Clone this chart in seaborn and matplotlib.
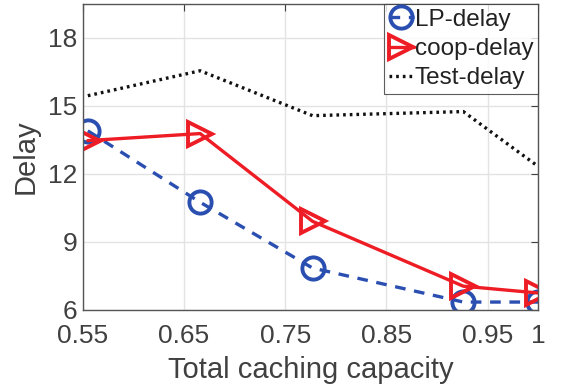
import matplotlib
matplotlib.use("Agg")
import matplotlib.pyplot as plt
import seaborn as sns
import pandas as pd

capacity = [0.555, 0.666, 0.777, 0.926, 1.0]
lp_delay = [13.9, 10.75, 7.85, 6.35, 6.35]
coop_delay = [13.47, 13.78, 9.91, 7.05, 6.75]
test_delay = [15.45, 16.55, 14.57, 14.75, 12.33]
series_names = ["LP-delay", "coop-delay", "Test-delay"]
xticks = [0.55, 0.65, 0.75, 0.85, 0.95, 1]
xtick_labels = ["0.55", "0.65", "0.75", "0.85", "0.95", "1"]
yticks = [6, 9, 12, 15, 18]

sns.set_theme(style="whitegrid")
plt.rcParams['font.family'] = ['Liberation Sans', 'DejaVu Sans']

df = pd.DataFrame({
    "x": capacity * 3,
    "y": lp_delay + coop_delay + test_delay,
    "series": [series_names[0]] * 5 + [series_names[1]] * 5 + [series_names[2]] * 5,
})

fig = plt.figure(figsize=(5.63, 3.87), dpi=100)
ax = fig.add_axes([0.147, 0.199, 0.809, 0.791])

styles = {
    "LP-delay": dict(color="#2a4fb0", linestyle=(0, (3.2, 2.6)), marker="o", markersize=16,
                     markerfacecolor="none", markeredgewidth=2.8),
    "coop-delay": dict(color="#ee1c24", linestyle="-", marker=">", markersize=17,
                       markerfacecolor="none", markeredgewidth=2.8),
    "Test-delay": dict(color="#111111", linestyle=(0, (0.8, 1.2)), marker=None),
}
for name in series_names:
    sub = df[df["series"] == name]
    st = styles[name]
    sns.lineplot(data=sub, x="x", y="y", ax=ax, label=name, linewidth=2.4,
                 color=st["color"], linestyle=st["linestyle"], marker=st["marker"],
                 markersize=st.get("markersize", 0), markerfacecolor=st.get("markerfacecolor"),
                 markeredgewidth=st.get("markeredgewidth", 0),
                 markeredgecolor=st["color"])

txt = "#404040"
ax.set_xlim(0.55, 1.0)
ax.set_ylim(6, 19.5)
ax.set_xticks(xticks)
ax.set_xticklabels(xtick_labels)
ax.set_yticks(yticks)
ax.tick_params(axis="both", labelsize=19, colors=txt, direction="in", length=5, width=0.8,
               right=True, top=True, pad=4)
ax.tick_params(axis="x", pad=10)
ax.set_xlabel("Total caching capacity", fontsize=21, color=txt, labelpad=6)
ax.set_ylabel("Delay", fontsize=21, color=txt, labelpad=6)
ax.grid(True, color="#e3e3e3", linewidth=1.0)
for s in ax.spines.values():
    s.set_color("#555555")
    s.set_linewidth(1.0)
ax.set_facecolor("white")

leg = ax.legend(loc="upper right", fontsize=17.5, frameon=True, fancybox=False,
                borderpad=0.2, labelspacing=0.3, handlelength=1.0, handletextpad=0.05,
                borderaxespad=0.0, markerscale=1.0)
leg.get_frame().set_edgecolor("#333333")
leg.get_frame().set_linewidth(0.8)
for t in leg.get_texts():
    t.set_color("#222222")

fig.savefig("out.png", dpi=100)
